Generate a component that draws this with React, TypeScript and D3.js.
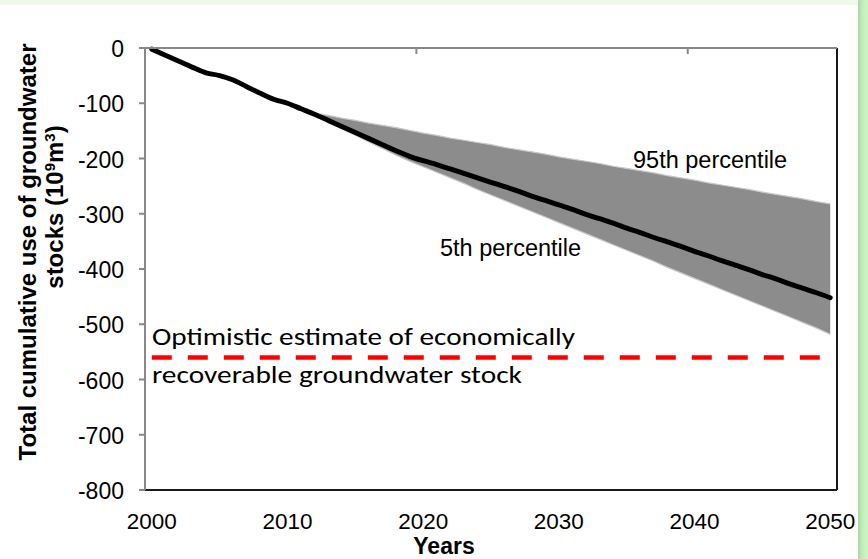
import React from "react";
import * as d3 from "d3";

const years: number[] = d3.range(2000, 2051);
const medianValues: number[] = [
  -2, -13, -24, -35, -45, -50, -58, -70, -82, -93,
  -100, -110, -120, -131, -142, -153, -164, -175, -186, -196,
  -204, -211, -219, -227, -235, -243, -251, -259, -268, -276,
  -284, -292, -301, -309, -317, -326, -334, -343, -351, -359,
  -368, -376, -385, -393, -401, -410, -418, -427, -435, -443,
  -452,
];
const bandYears: number[] = d3.range(2010, 2051);
const p95Values: number[] = [
  -100, -112, -118, -122, -127, -131, -136, -140, -144, -149,
  -154, -158, -163, -167, -171, -175, -180, -184, -188, -192,
  -197, -201, -205, -209, -214, -218, -222, -226, -231, -235,
  -239, -244, -248, -252, -256, -261, -265, -269, -273, -278,
  -282,
];
const p5Values: number[] = [
  -100, -111, -122, -134, -146, -158, -170, -182, -194, -205,
  -215, -225, -235, -245, -256, -266, -276, -286, -296, -306,
  -316, -326, -336, -346, -356, -366, -376, -386, -397, -407,
  -417, -427, -437, -447, -457, -467, -477, -487, -497, -507,
  -518,
];
const stockLimit: number[] = [-560, -560];
const stockYears: number[] = [2000, 2050];
const yTicks: number[] = [0, -100, -200, -300, -400, -500, -600, -700, -800];
const xLabelYears: number[] = [2000, 2010, 2020, 2030, 2040, 2050];
const xTickBoundaries: number[] = [0, 20, 40];

const W = 868;
const H = 559;
const L = 145, R = 837, T = 48, B = 490;

export default function App() {
  const x = d3.scalePoint<number>().domain(years).range([L, R]).padding(0.5);
  const step = x.step();
  const y = d3.scaleLinear().domain([-800, 0]).range([B, T]);

  const line = d3
    .line<number>()
    .x((_, i) => x(years[i])!)
    .y((d) => y(d))
    .curve(d3.curveMonotoneX);

  const area = d3
    .area<number>()
    .x((_, i) => x(bandYears[i])!)
    .y0((_, i) => y(p5Values[i]))
    .y1((d) => y(d));

  const edge = d3.line<number>().x((_, i) => x(bandYears[i])!).y((d) => y(d));
  const redLine = d3.line<number>().x((_, i) => x(stockYears[i])!).y((d) => y(d));

  const arial = "Arial, 'Liberation Sans', sans-serif";
  const calibri = "Carlito, Calibri, Lato, sans-serif";

  return (
    <svg
      width={W}
      height={H}
      style={{ position: "absolute", left: 0, top: 0, display: "block" }}
    >
      <defs>
        <linearGradient id="rightShadow" x1="0" x2="1" y1="0" y2="0">
          <stop offset="0" stopColor="#a9d9a1" />
          <stop offset="0.5" stopColor="#c4f0bc" />
          <stop offset="1" stopColor="#cdf8c5" />
        </linearGradient>
      </defs>
      <rect x={0} y={0} width={W} height={H} fill="#eef9ec" />
      <rect x={858} y={0} width={10} height={H} fill="url(#rightShadow)" />
      <rect x={0} y={5} width={858} height={H - 5} fill="#ffffff" />

      {/* plot border */}
      <line x1={L} x2={R} y1={B} y2={B} stroke="#1a1a1a" strokeWidth={2} />
      <line x1={R} x2={R} y1={T} y2={B} stroke="#1a1a1a" strokeWidth={2} />

      {/* band */}
      <path d={area(p95Values) || ""} fill="#8c8c8c" />
      <path d={edge(p95Values) || ""} fill="none" stroke="#c8c8c8" strokeWidth={1.2} />
      <path d={edge(p5Values) || ""} fill="none" stroke="#c8c8c8" strokeWidth={1.2} />

      {/* red dashed */}
      <path
        d={redLine(stockLimit) || ""}
        fill="none"
        stroke="#ff0000"
        strokeWidth={4.5}
        strokeDasharray="20,16"
      />

      {/* median line */}
      <path
        d={line(medianValues) || ""}
        fill="none"
        stroke="#000"
        strokeWidth={5}
        strokeLinecap="round"
        strokeLinejoin="round"
      />

      {/* axes */}
      <line x1={L} x2={L} y1={T} y2={B} stroke="#888" strokeWidth={2} />
      <line x1={L} x2={R} y1={T} y2={T} stroke="#888" strokeWidth={2} />
      {yTicks.map((t) => (
        <g key={t}>
          <line x1={L - 6} x2={L} y1={y(t)} y2={y(t)} stroke="#888" strokeWidth={2} />
          <text
            x={124}
            y={y(t) + 1}
            textAnchor="end"
            dominantBaseline="central"
            fontFamily={arial}
            fontSize={23}
            fill="#000"
          >
            {t}
          </text>
        </g>
      ))}
      {xTickBoundaries.map((b) => (
        <line
          key={b}
          x1={L + b * step}
          x2={L + b * step}
          y1={T}
          y2={T + 6}
          stroke="#888"
          strokeWidth={2}
        />
      ))}
      {xLabelYears.map((yr) => (
        <text
          key={yr}
          x={x(yr)!}
          y={529}
          textAnchor="middle"
          fontFamily={arial}
          fontSize={22.5}
          fill="#000"
        >
          {yr}
        </text>
      ))}

      {/* axis titles */}
      <text
        x={444}
        y={554}
        textAnchor="middle"
        fontFamily={arial}
        fontWeight="bold"
        fontSize={23}
      >
        Years
      </text>
      <text
        transform="translate(36,252) rotate(-90)"
        textAnchor="middle"
        fontFamily={arial}
        fontWeight="bold"
        fontSize={24}
      >
        Total cumulative use of groundwater
      </text>
      <text
        transform="translate(63,207) rotate(-90)"
        textAnchor="middle"
        fontFamily={arial}
        fontWeight="bold"
        fontSize={24}
      >
        stocks (10<tspan dy={-8} fontSize={15}>9</tspan>
        <tspan dy={8}>m</tspan>
        <tspan dy={-8} fontSize={15}>3</tspan>
        <tspan dy={8}>)</tspan>
      </text>

      {/* annotations */}
      <text x={633} y={168} fontFamily={arial} fontSize={23.5} fill="#000">
        95th percentile
      </text>
      <text x={440} y={256} fontFamily={arial} fontSize={23.5} fill="#000">
        5th percentile
      </text>
      <text
        x={152}
        y={345}
        fontFamily={calibri}
        fontSize={25}
        fill="#000"
        textLength={423}
        lengthAdjust="spacingAndGlyphs"
      >
        Optimistic estimate of economically
      </text>
      <text
        x={152}
        y={383}
        fontFamily={calibri}
        fontSize={25}
        fill="#000"
        textLength={370}
        lengthAdjust="spacingAndGlyphs"
      >
        recoverable groundwater stock
      </text>
    </svg>
  );
}
